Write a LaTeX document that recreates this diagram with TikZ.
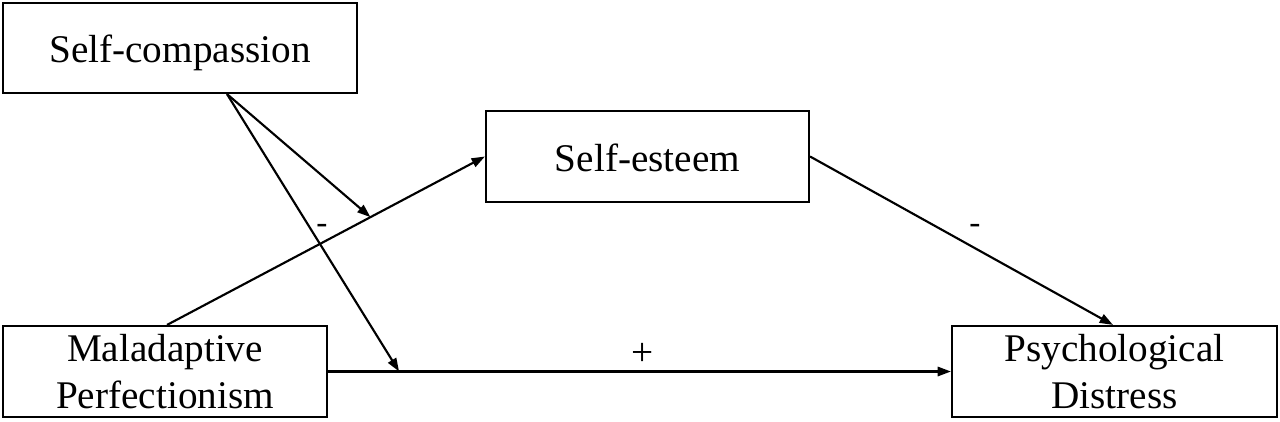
\documentclass[tikz,border=0pt]{standalone}
\usepackage{fontspec}
\setmainfont{Liberation Serif}
\usetikzlibrary{arrows.meta,calc}
\begin{document}
\begin{tikzpicture}[x=0.75pt,y=-0.75pt,
  box/.style={draw,line width=1.6pt,inner sep=0pt,align=center,
    font=\fontsize{29.4}{35.3}\selectfont},
  onebox/.style={box,text height=22pt,text depth=0pt},
  conn/.style={line width=1.6pt,-{Triangle[length=10pt,width=7pt]}},
  sign/.style={anchor=base,inner sep=0pt,font=\fontsize{29.4}{35.3}\selectfont},
  minus/.style={anchor=base,inner sep=0pt,font=\fontsize{25}{30}\selectfont}]
\useasboundingbox[fill=white] (0,0) rectangle (1280,421);
\node[onebox,minimum width=354*0.75pt,minimum height=90*0.75pt] (sc) at (180,48) {Self-compassion};
\node[onebox,minimum width=323*0.75pt,minimum height=91*0.75pt] (se) at (647.5,156.5) {Self-esteem};
\node[box,minimum width=324*0.75pt,minimum height=91*0.75pt] (mp) at (165,371.5) {Maladaptive\\Perfectionism};
\node[box,minimum width=325*0.75pt,minimum height=91*0.75pt] (pd) at (1114.5,371.5) {Psychological\\Distress};
\coordinate (scout) at ($(sc.south)+(47,0)$);
\coordinate (mpout) at ($(mp.north)+(2,0)$);
\coordinate (modA) at ($(mpout)!0.64!(se.west)$);
\coordinate (modB) at ($(mp.east)!0.114!(pd.west)$);
\draw[conn] (mpout) -- (se.west);
\draw[conn] (mp.east) -- (pd.west);
\draw[conn] (se.east) -- ($(pd.north)+(-1.5,0)$);
\draw[conn] (scout) -- (modA);
\draw[conn] (scout) -- (modB);
\node[minus] (l1) at (322,233.5) {-};
\node[minus] (l2) at (975,233.5) {-};
\node[sign] (l3) at (643,365) {+};
\end{tikzpicture}
\end{document}
